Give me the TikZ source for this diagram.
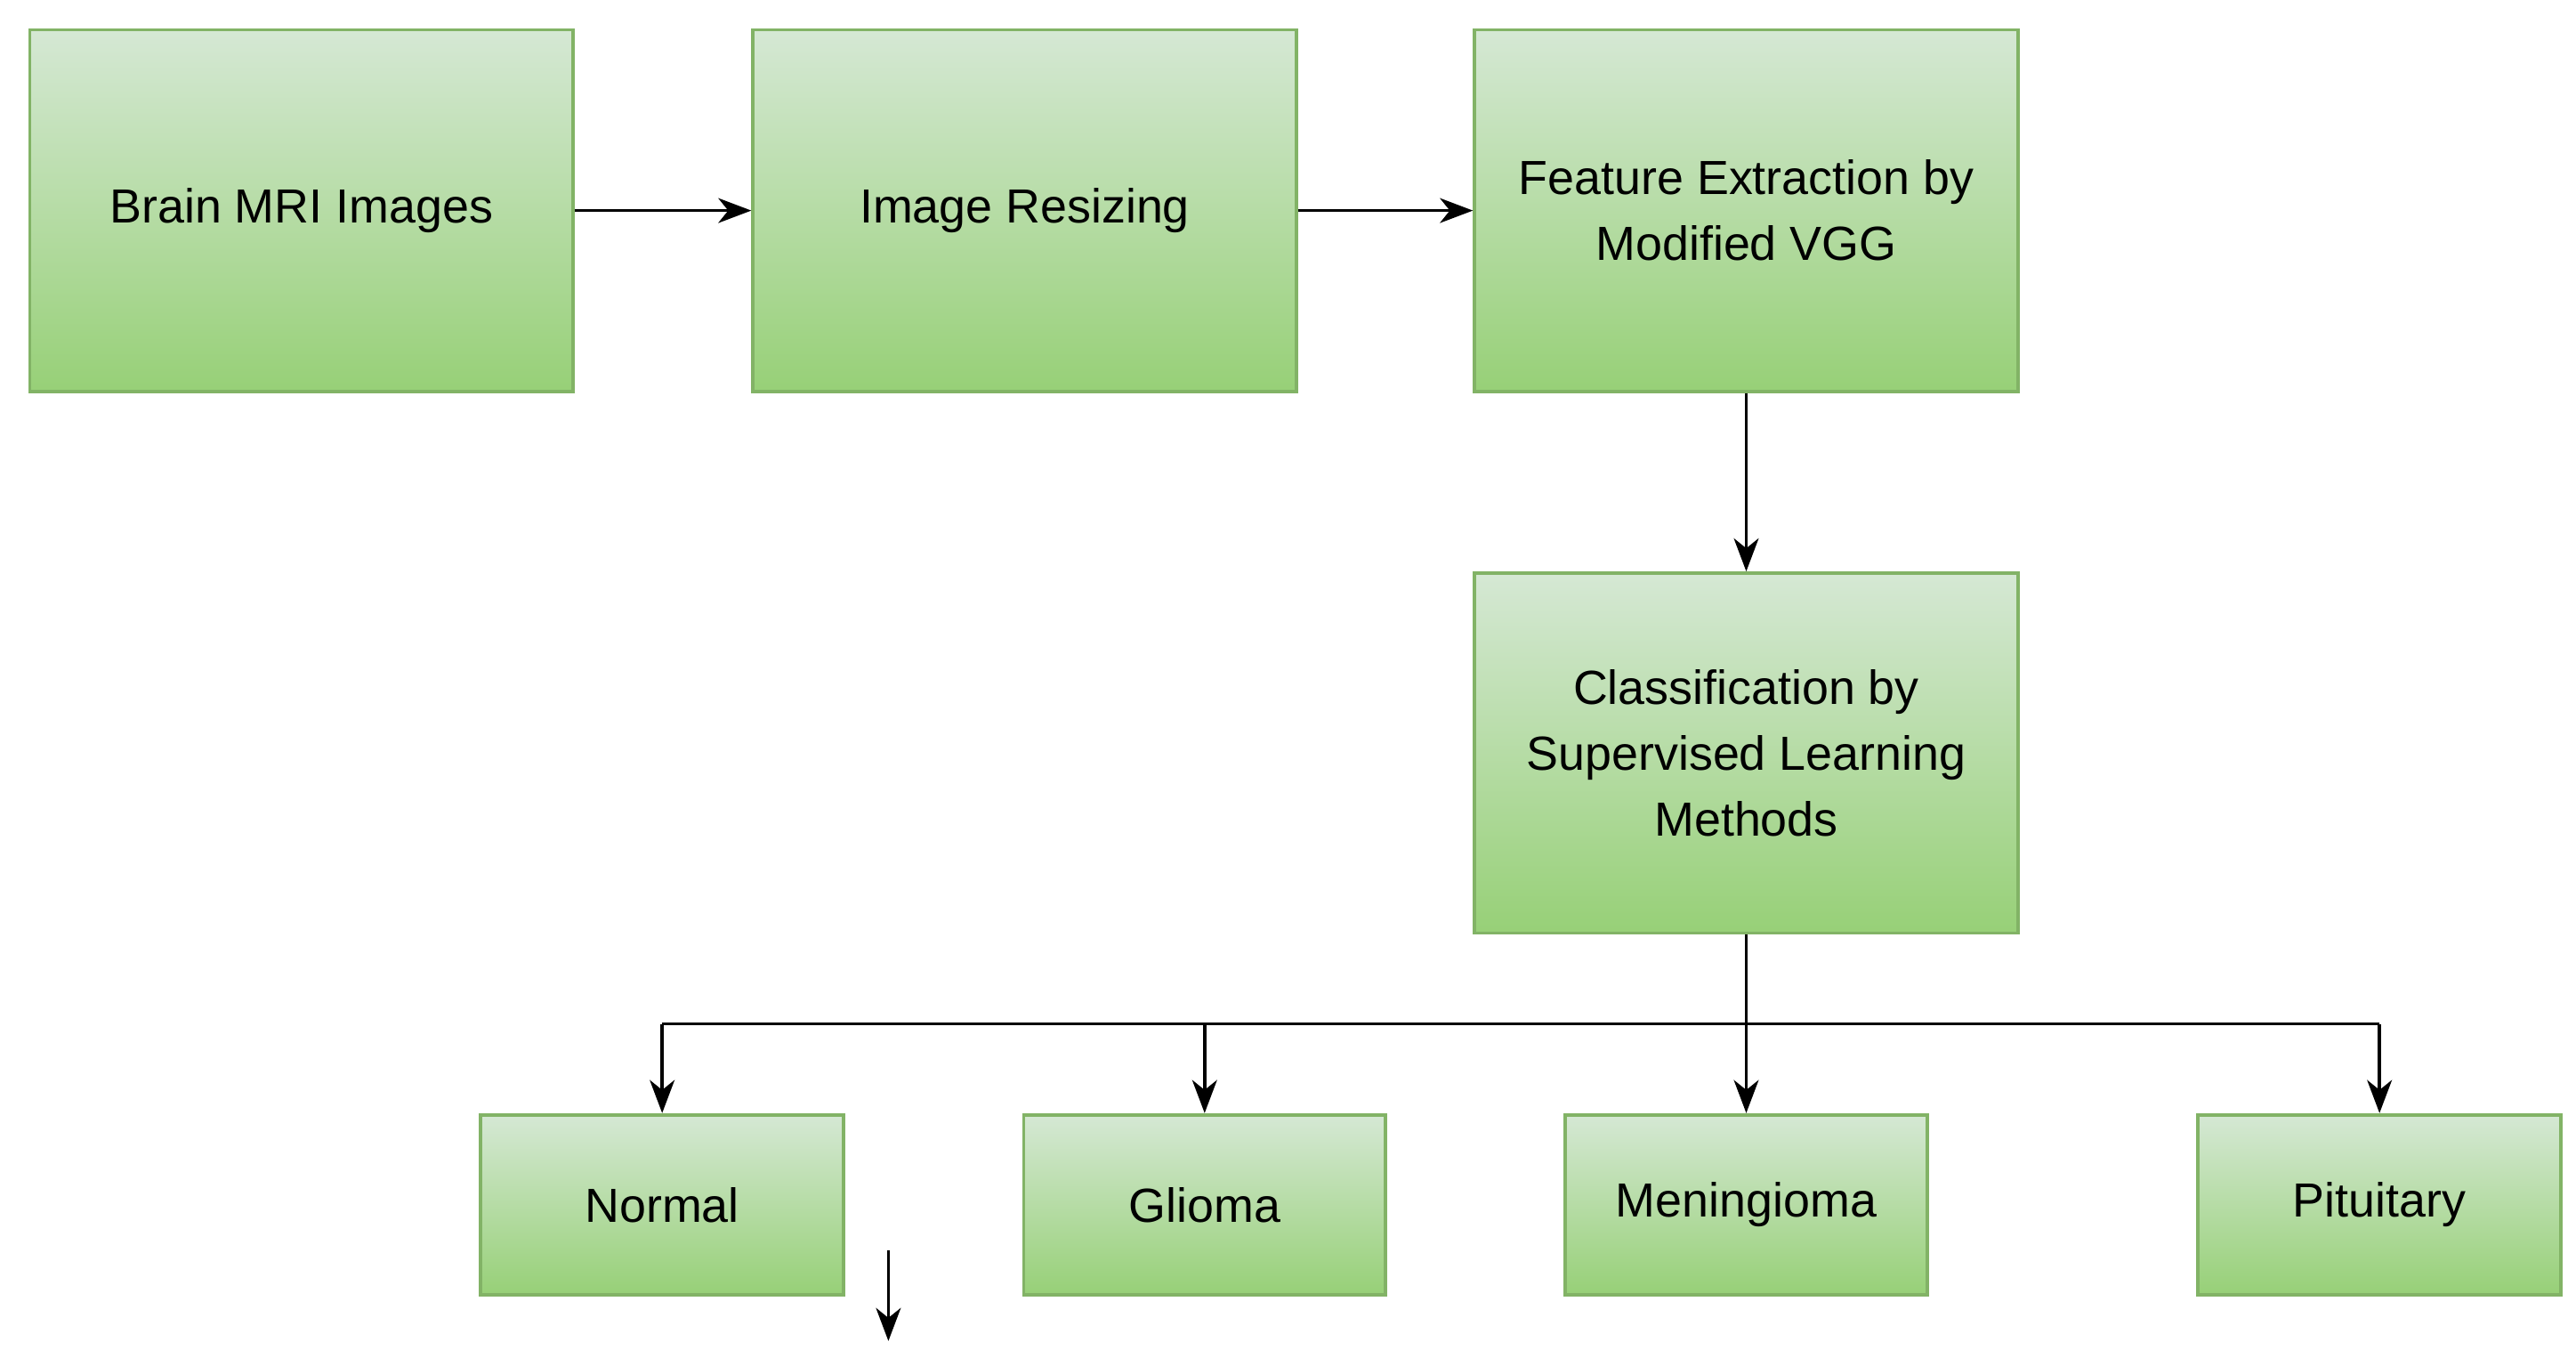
\documentclass[tikz,border=0pt]{standalone}
\usepackage{fontspec}
\setmainfont{Liberation Sans}
\usetikzlibrary{arrows.meta}
\definecolor{gtop}{HTML}{D5E8D4}
\definecolor{gbot}{HTML}{97D077}
\definecolor{gedge}{HTML}{82B366}
\begin{document}
\begin{tikzpicture}[x=1pt,y=-1pt,
  box/.style={draw=gedge,line width=2pt,top color=gtop,bottom color=gbot,
    inner sep=0pt,align=center,font=\fontsize{29}{40}\selectfont},
  arr/.style={line width=2pt,-{Stealth[length=20pt,width=15pt,inset=6pt]}}]
\useasboundingbox (0,0) rectangle (1560,822);
\node[box,minimum width=329pt,minimum height=219pt] (mri) at (182.5,127.5) {Brain MRI Images};
\node[box,minimum width=329pt,minimum height=219pt] (res) at (620.5,127.5) {Image Resizing};
\node[box,minimum width=329pt,minimum height=219pt] (fe) at (1057.5,127.5) {Feature Extraction by\\Modified VGG};
\node[box,minimum width=329pt,minimum height=218pt] (cl) at (1057.5,456) {Classification by\\Supervised Learning\\Methods};
\node[box,minimum width=220pt,minimum height=109pt] (no) at (401,729.5) {Normal};
\node[box,minimum width=219pt,minimum height=109pt] (gl) at (729.5,729.5) {Glioma};
\node[box,minimum width=219pt,minimum height=109pt] (me) at (1057.5,729.5) {Meningioma};
\node[box,minimum width=220pt,minimum height=109pt] (pi) at (1441,729.5) {Pituitary};
\draw[arr] (mri) -- (res);
\draw[arr] (res) -- (fe);
\draw[arr] (fe) -- (cl);
\coordinate (j) at (1057.5,620);
\draw[line width=2pt] (cl.south) -- (j);
\draw[line width=2pt] (no.north |- j) -- (pi.north |- j);
\draw[arr] (no.north |- j) -- (no.north);
\draw[arr] (gl.north |- j) -- (gl.north);
\draw[arr] (j) -- (me.north);
\draw[arr] (pi.north |- j) -- (pi.north);
\coordinate (s1) at (538,757);
\coordinate (s2) at (538,812);
\draw[arr] (s1) -- (s2);
\end{tikzpicture}
\end{document}
